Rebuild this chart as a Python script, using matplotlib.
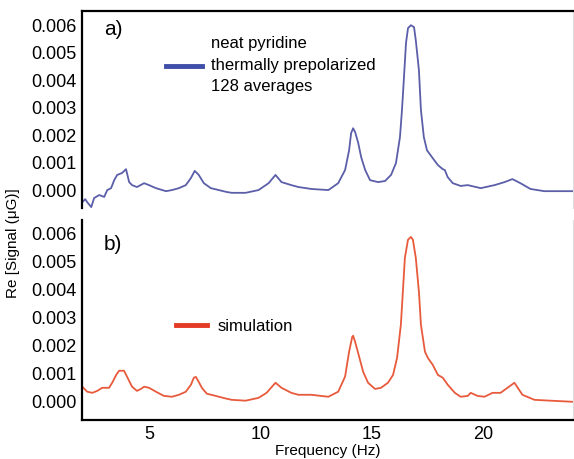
import matplotlib
matplotlib.use("Agg")
import matplotlib.pyplot as plt

plt.rcParams['font.family'] = ['Liberation Sans', 'DejaVu Sans']

# experimental spectrum (a)
freq_a = [2.01, 2.14, 2.23, 2.41, 2.54, 2.77, 2.99, 3.13, 3.30, 3.44, 3.57, 3.79, 3.97,
          4.11, 4.24, 4.46, 4.78, 5.0, 5.31, 5.76, 6.03, 6.34, 6.65, 6.88, 7.05, 7.23,
          7.46, 7.77, 8.13, 8.48, 8.71, 9.33, 9.91, 10.36, 10.67, 10.94, 11.38, 11.70,
          12.28, 13.04, 13.48, 13.79, 13.97, 14.06, 14.15, 14.24, 14.38, 14.51, 14.69,
          14.91, 15.27, 15.58, 15.85, 16.07, 16.25, 16.34, 16.43, 16.52, 16.61, 16.74,
          16.88, 16.96, 17.10, 17.19, 17.32, 17.46, 17.72, 17.95, 18.17, 18.26, 18.39,
          18.62, 18.97, 19.29, 19.87, 20.49, 20.94, 21.29, 21.65, 22.10, 22.72, 23.30, 24.0]
signal_a = [-0.00044, -0.00033, -0.00044, -0.00062, -0.00029, -0.00018, -0.00025, 0.0,
            0.00007, 0.00036, 0.00055, 0.00062, 0.00076, 0.00029, 0.00018, 0.00011,
            0.00025, 0.00018, 0.00007, -0.00004, 0.0, 0.00007, 0.00018, 0.00044, 0.0007,
            0.00055, 0.00025, 0.00007, 0.0, -0.00007, -0.0001, -0.0001, 0.0, 0.00025,
            0.00055, 0.00029, 0.00018, 0.00011, 0.00004, 0.0, 0.00025, 0.00073, 0.00145,
            0.00207, 0.00225, 0.00211, 0.00171, 0.0012, 0.00073, 0.00036, 0.00029,
            0.00033, 0.00055, 0.00098, 0.00193, 0.00291, 0.00411, 0.00535, 0.00589,
            0.006, 0.00593, 0.00545, 0.00436, 0.00291, 0.00193, 0.00145, 0.00116,
            0.00091, 0.00076, 0.00073, 0.00047, 0.00025, 0.00015, 0.00018, 0.00007,
            0.00018, 0.00029, 0.0004, 0.00025, 0.00004, -0.00004, -0.00004, -0.00004]

# simulated spectrum (b)
freq_b = [2.01, 2.23, 2.46, 2.68, 2.90, 3.21, 3.35, 3.53, 3.66, 3.88, 4.02, 4.24, 4.46,
          4.64, 4.78, 5.0, 5.31, 5.67, 6.03, 6.34, 6.65, 6.88, 7.01, 7.10, 7.23, 7.37,
          7.59, 7.99, 8.48, 8.71, 9.33, 9.91, 10.27, 10.67, 10.94, 11.38, 11.70, 12.28,
          13.04, 13.48, 13.79, 13.97, 14.11, 14.15, 14.24, 14.42, 14.60, 14.82, 15.13,
          15.40, 15.71, 15.94, 16.12, 16.29, 16.38, 16.47, 16.61, 16.74, 16.83, 16.96,
          17.10, 17.19, 17.37, 17.50, 17.72, 17.95, 18.17, 18.39, 18.71, 18.97, 19.29,
          19.42, 19.73, 20.04, 20.40, 20.76, 21.07, 21.38, 21.74, 22.28, 22.99, 24.0]
signal_b = [0.00054, 0.00036, 0.00032, 0.00039, 0.0005, 0.0005, 0.00068, 0.00096,
            0.00111, 0.00111, 0.00089, 0.00054, 0.00039, 0.00046, 0.00054, 0.0005,
            0.00036, 0.00021, 0.00018, 0.00025, 0.00036, 0.00061, 0.00086, 0.00089,
            0.00071, 0.0005, 0.00029, 0.00021, 0.00011, 0.00007, 0.00004, 0.00014,
            0.00032, 0.00068, 0.0005, 0.00032, 0.00025, 0.00025, 0.00018, 0.00036,
            0.0009, 0.00179, 0.00232, 0.00236, 0.00214, 0.00161, 0.00107, 0.00068,
            0.00046, 0.0005, 0.00068, 0.00096, 0.00157, 0.00275, 0.00393, 0.00514,
            0.00579, 0.00589, 0.00579, 0.00514, 0.00393, 0.00275, 0.00179, 0.00157,
            0.00132, 0.00096, 0.00086, 0.00061, 0.00032, 0.00018, 0.00021, 0.00032,
            0.00021, 0.00018, 0.00032, 0.00032, 0.0005, 0.00068, 0.00025, 0.00007,
            0.00004, 0.0]

yticks = [0.0, 0.001, 0.002, 0.003, 0.004, 0.005, 0.006]
xticks = [5, 10, 15, 20]

fig = plt.figure(figsize=(5.74, 4.59), dpi=100)
ax_a = fig.add_axes([0.143, 0.547, 0.855, 0.428])
ax_b = fig.add_axes([0.143, 0.085, 0.855, 0.436])

ax_a.plot(freq_a, signal_a, color='#5b5ea8', lw=1.3, solid_joinstyle='round',
          label='neat pyridine\nthermally prepolarized\n128 averages')
ax_b.plot(freq_b, signal_b, color='#e85a3c', lw=1.3, solid_joinstyle='round',
          label='simulation')

for ax in (ax_a, ax_b):
    ax.set_xlim(2, 24)
    ax.set_ylim(-0.00065, 0.0065)
    ax.set_yticks(yticks)
    ax.set_yticklabels([f'{t:.3f}' for t in yticks])
    ax.tick_params(length=0, labelsize=13, pad=4)
    ax.spines['right'].set_color('#dddddd')
    ax.spines['left'].set_linewidth(1.6)

ax_a.spines['bottom'].set_visible(False)
ax_a.spines['top'].set_linewidth(1.6)
ax_a.set_xticks([])
ax_b.spines['top'].set_visible(False)
ax_b.spines['bottom'].set_linewidth(1.6)
ax_b.set_xticks(xticks)
ax_b.set_xticklabels([str(t) for t in xticks])
ax_b.set_xlabel('Frequency (Hz)', fontsize=11, labelpad=1)

ax_a.text(0.045, 0.88, 'a)', transform=ax_a.transAxes, fontsize=15)
ax_b.text(0.045, 0.85, 'b)', transform=ax_b.transAxes, fontsize=15)

leg_a = ax_a.legend(loc='upper left', bbox_to_anchor=(0.14, 0.95), frameon=False,
                    fontsize=12, handlelength=2.2, handletextpad=0.5)
leg_b = ax_b.legend(loc='upper left', bbox_to_anchor=(0.16, 0.58), frameon=False,
                    fontsize=12, handlelength=1.9, handletextpad=0.6)
leg_a.get_texts()[0].set_linespacing(1.55)
leg_a.get_lines()[0].set_linewidth(3.5)
leg_a.get_lines()[0].set_color('#3f4ea8')
leg_b.get_lines()[0].set_linewidth(3.5)
leg_b.get_lines()[0].set_color('#e23a24')

fig.text(0.022, 0.47, 'Re [Signal (μG)]', rotation=90, fontsize=11,
         ha='center', va='center')

fig.savefig('out.png', dpi=100)
